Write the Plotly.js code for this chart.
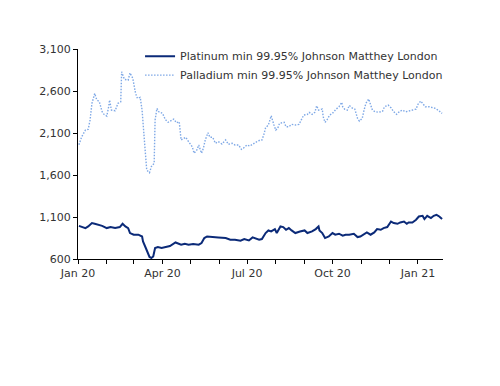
<!DOCTYPE html>
<html>
<head>
<meta charset="utf-8">
<script src="https://cdn.plot.ly/plotly-3.0.1.min.js"></script>
<style>html,body{margin:0;padding:0;background:#fff}#chart{width:500px;height:386px}</style>
</head>
<body>
<div id="chart"></div>
<script>
const seriesNames = ["Platinum min 99.95% Johnson Matthey London", "Palladium min 99.95% Johnson Matthey London"];

const platinumDates = ["2020-01-02","2020-01-05","2020-01-09","2020-01-12","2020-01-16","2020-01-19","2020-01-23","2020-01-27","2020-02-01","2020-02-05","2020-02-10","2020-02-15","2020-02-18","2020-02-21","2020-02-24","2020-02-26","2020-03-01","2020-03-06","2020-03-10","2020-03-11","2020-03-14","2020-03-16","2020-03-18","2020-03-20","2020-03-22","2020-03-24","2020-03-27","2020-03-31","2020-04-06","2020-04-09","2020-04-15","2020-04-18","2020-04-21","2020-04-25","2020-04-29","2020-05-04","2020-05-10","2020-05-13","2020-05-16","2020-05-19","2020-05-24","2020-05-31","2020-06-08","2020-06-13","2020-06-18","2020-06-24","2020-06-28","2020-07-03","2020-07-07","2020-07-10","2020-07-14","2020-07-17","2020-07-21","2020-07-24","2020-07-27","2020-07-31","2020-08-02","2020-08-06","2020-08-09","2020-08-12","2020-08-15","2020-08-18","2020-08-22","2020-08-27","2020-09-01","2020-09-04","2020-09-09","2020-09-13","2020-09-16","2020-09-17","2020-09-20","2020-09-23","2020-09-27","2020-10-01","2020-10-04","2020-10-08","2020-10-12","2020-10-15","2020-10-19","2020-10-24","2020-10-28","2020-10-31","2020-11-04","2020-11-07","2020-11-11","2020-11-15","2020-11-18","2020-11-22","2020-11-25","2020-11-29","2020-12-03","2020-12-06","2020-12-10","2020-12-13","2020-12-17","2020-12-20","2020-12-22","2020-12-26","2020-12-30","2021-01-02","2021-01-06","2021-01-08","2021-01-11","2021-01-15","2021-01-18","2021-01-21","2021-01-24","2021-01-27"];
const platinumValues = [995,980,968,987,1028,1019,1007,995,968,980,968,980,1019,987,968,909,889,889,868,809,731,671,624,612,631,731,743,731,743,755,797,782,770,782,770,778,770,790,849,868,861,857,849,829,829,817,837,821,857,845,829,837,909,940,928,956,909,987,980,948,968,940,909,928,940,909,928,956,987,940,909,849,868,909,889,901,877,889,889,901,861,868,901,916,889,916,956,948,968,980,1046,1028,1019,1035,1046,1019,1035,1035,1067,1106,1114,1075,1114,1087,1114,1126,1106,1075];

const palladiumDates = ["2020-01-02","2020-01-05","2020-01-09","2020-01-12","2020-01-14","2020-01-16","2020-01-19","2020-01-21","2020-01-24","2020-01-27","2020-01-29","2020-02-01","2020-02-03","2020-02-04","2020-02-06","2020-02-10","2020-02-13","2020-02-16","2020-02-17","2020-02-20","2020-02-24","2020-02-26","2020-02-29","2020-03-03","2020-03-05","2020-03-08","2020-03-10","2020-03-11","2020-03-13","2020-03-15","2020-03-18","2020-03-20","2020-03-23","2020-03-24","2020-03-26","2020-03-28","2020-04-01","2020-04-04","2020-04-07","2020-04-13","2020-04-16","2020-04-19","2020-04-20","2020-04-21","2020-04-24","2020-04-26","2020-04-29","2020-05-03","2020-05-05","2020-05-08","2020-05-10","2020-05-13","2020-05-15","2020-05-17","2020-05-20","2020-05-22","2020-05-25","2020-05-28","2020-05-31","2020-06-04","2020-06-08","2020-06-11","2020-06-15","2020-06-18","2020-06-22","2020-06-25","2020-06-27","2020-07-01","2020-07-04","2020-07-08","2020-07-12","2020-07-15","2020-07-17","2020-07-19","2020-07-21","2020-07-24","2020-07-26","2020-07-27","2020-07-30","2020-08-01","2020-08-03","2020-08-05","2020-08-08","2020-08-10","2020-08-12","2020-08-15","2020-08-18","2020-08-22","2020-08-26","2020-08-29","2020-08-31","2020-09-04","2020-09-06","2020-09-09","2020-09-12","2020-09-14","2020-09-16","2020-09-20","2020-09-21","2020-09-23","2020-09-25","2020-09-28","2020-10-01","2020-10-05","2020-10-08","2020-10-11","2020-10-12","2020-10-14","2020-10-17","2020-10-19","2020-10-22","2020-10-25","2020-10-28","2020-10-30","2020-11-02","2020-11-04","2020-11-06","2020-11-09","2020-11-11","2020-11-13","2020-11-16","2020-11-20","2020-11-24","2020-11-26","2020-11-30","2020-12-03","2020-12-06","2020-12-09","2020-12-12","2020-12-15","2020-12-19","2020-12-22","2020-12-26","2020-12-30","2021-01-01","2021-01-04","2021-01-06","2021-01-09","2021-01-13","2021-01-17","2021-01-20","2021-01-24","2021-01-27"];
const palladiumValues = [1960,2056,2135,2144,2254,2453,2571,2500,2471,2353,2322,2302,2412,2492,2373,2365,2453,2471,2828,2738,2730,2816,2750,2571,2512,2524,2373,2254,1937,1660,1628,1700,1740,2254,2393,2353,2334,2260,2228,2266,2222,2234,2135,2017,2037,2049,1997,1937,1859,1898,1957,1859,1918,2017,2104,2049,2049,1978,1997,1969,2017,1966,1978,1957,1957,1906,1918,1957,1945,1978,2000,2015,2017,2076,2163,2195,2274,2305,2195,2135,2155,2215,2222,2227,2175,2175,2203,2195,2203,2274,2313,2322,2346,2322,2346,2424,2373,2385,2294,2227,2254,2313,2334,2385,2412,2464,2412,2385,2373,2428,2400,2385,2274,2242,2274,2373,2453,2504,2424,2373,2353,2346,2361,2412,2432,2400,2353,2322,2353,2373,2353,2361,2373,2385,2441,2480,2453,2412,2412,2400,2393,2361,2334];

const yTickVals = [600, 1100, 1600, 2100, 2600, 3100];

const FONT = "DejaVu Sans, Verdana, sans-serif";

const traces = [
  {x: platinumDates, y: platinumValues, name: seriesNames[0], type: "scatter", mode: "lines",
   line: {color: "#0B2A78", width: 2}},
  {x: palladiumDates, y: palladiumValues, name: seriesNames[1], type: "scatter", mode: "lines",
   line: {color: "#7EA8E6", width: 1.4, dash: "1.5px,1.5px"}}
];

const layout = {
  width: 500, height: 386,
  margin: {l: 78, r: 57, t: 49, b: 127, pad: 0},
  paper_bgcolor: "#fff", plot_bgcolor: "#fff",
  font: {family: FONT, size: 11, color: "#333"},
  showlegend: true,
  legend: {x: 0.17, xanchor: "left", y: 1.035, yanchor: "top", bgcolor: "rgba(0,0,0,0)",
           font: {family: FONT, size: 11, color: "#333"}, tracegroupgap: 0},
  xaxis: {
    type: "date", range: ["2020-01-01", "2021-01-28"],
    tick0: "2020-01-01", dtick: "M3", tickformat: "%b %y",
    showgrid: false, zeroline: false, showline: true, linecolor: "#000", linewidth: 1,
    ticks: "outside", ticklen: 4, tickcolor: "#000", tickwidth: 1,
    tickfont: {family: FONT, size: 11, color: "#333"},
    minor: {dtick: "M1", tick0: "2020-01-01", ticks: "outside", ticklen: 4, tickcolor: "#000", showgrid: false}
  },
  yaxis: {
    range: [600, 3100], tickvals: yTickVals, tickformat: ",d",
    showgrid: false, zeroline: false, showline: true, linecolor: "#000", linewidth: 1,
    ticks: "outside", ticklen: 4, tickcolor: "#000", tickwidth: 1,
    tickfont: {family: FONT, size: 11, color: "#333"}
  }
};

Plotly.newPlot("chart", traces, layout, {displayModeBar: false, staticPlot: true});
</script>
</body>
</html>
